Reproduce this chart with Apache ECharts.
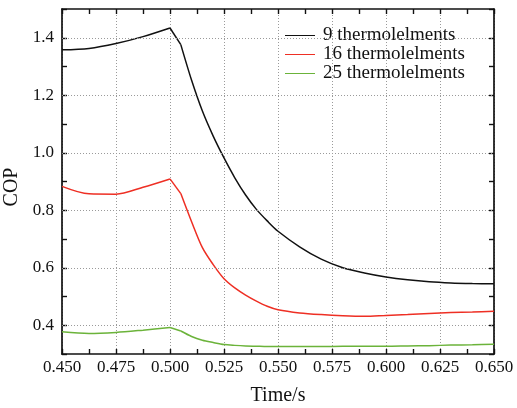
<!DOCTYPE html>
<html>
<head>
<meta charset="utf-8">
<script src="https://cdn.jsdelivr.net/npm/echarts@6/dist/echarts.min.js"></script>
<style>
  html, body { margin: 0; padding: 0; background: #fff; }
  #chart { width: 517px; height: 408px; }
</style>
</head>
<body>
<div id="chart"></div>
<script>
// Sample times (s)
const times = [0.45, 0.4625, 0.475, 0.4875, 0.5, 0.505, 0.51, 0.515, 0.52, 0.525,
  0.53, 0.535, 0.54, 0.545, 0.55, 0.56, 0.57, 0.58, 0.59, 0.6,
  0.61, 0.62, 0.63, 0.64, 0.65];

// COP for each module size
const cop9 = [1.358, 1.363, 1.380, 1.404, 1.434, 1.376, 1.252, 1.145, 1.058, 0.982,
  0.913, 0.853, 0.803, 0.763, 0.727, 0.673, 0.630, 0.600, 0.582, 0.568,
  0.558, 0.551, 0.547, 0.545, 0.544];
const cop16 = [0.883, 0.857, 0.856, 0.880, 0.909, 0.858, 0.760, 0.670, 0.611, 0.562,
  0.530, 0.505, 0.484, 0.466, 0.454, 0.443, 0.437, 0.433, 0.431, 0.434,
  0.437, 0.441, 0.444, 0.446, 0.449];
const cop25 = [0.377, 0.371, 0.375, 0.383, 0.392, 0.380, 0.361, 0.348, 0.340, 0.333,
  0.330, 0.328, 0.327, 0.326, 0.326, 0.326, 0.326, 0.327, 0.327, 0.327,
  0.328, 0.329, 0.331, 0.332, 0.334];

const seriesNames = ['9 thermolelments', '16 thermolelments', '25 thermolelments'];
const seriesColors = ['#111111', '#ee2f24', '#6bb33a'];
const seriesValues = [cop9, cop16, cop25];

// Horizontal grid levels (labelled COP values)
const copGridLevels = [0.4, 0.6, 0.8, 1.0, 1.2, 1.4];

// The curves have corners where the pulse switches (0.500 s and 0.505 s);
// each curve is drawn as smooth pieces joined at those corners.
const cornerIdx = [4, 5];

const FONT = 'Liberation Serif';
const frame = { lineStyle: { color: '#111', width: 1.7 } };
const tickStyle = { show: true, inside: true, length: 5, lineStyle: { color: '#111', width: 1.4 } };
const gridLine = { color: '#9a9a9a', type: [1, 2], width: 1 };

function pairs(vals, from, to) {
  const out = [];
  for (let i = from; i <= to; i++) out.push([times[i], vals[i]]);
  return out;
}

const chart = echarts.init(document.getElementById('chart'), null, { renderer: 'canvas' });

const xCommon = {
  type: 'value', min: 0.45, max: 0.65, interval: 0.025,
  axisLine: Object.assign({ show: true, onZero: false }, frame),
  axisTick: tickStyle,
  minorTick: { show: true, splitNumber: 2, length: 5, lineStyle: { color: '#111', width: 1.4 } }
};
const yCommon = {
  type: 'value', min: 0.3, max: 1.5, interval: 0.1,
  axisLine: Object.assign({ show: true, onZero: false }, frame),
  axisTick: tickStyle
};

const curveSeries = [];
seriesNames.forEach((name, i) => {
  const bounds = [0].concat(cornerIdx, [times.length - 1]);
  for (let s = 0; s < bounds.length - 1; s++) {
    curveSeries.push({
      name: name,
      type: 'line',
      data: pairs(seriesValues[i], bounds[s], bounds[s + 1]),
      symbol: 'none',
      smooth: 0.3,
      z: 3,
      color: seriesColors[i],
      lineStyle: { color: seriesColors[i], width: 1.5 }
    });
  }
});

chart.setOption({
  animation: false,
  backgroundColor: '#fff',
  textStyle: { fontFamily: FONT },
  grid: { left: 62, right: 23, top: 9, bottom: 54, containLabel: false, outerBoundsMode: 'none' },
  legend: {
    data: seriesNames,
    orient: 'vertical',
    left: 280, top: 21, padding: 5,
    itemWidth: 30, itemHeight: 10, itemGap: 0,
    icon: 'path://M0,4.5 L30,4.5 L30,5.5 L0,5.5 Z',
    textStyle: { fontFamily: FONT, fontSize: 19, color: '#111', lineHeight: 18.4, padding: [0, 0, 0, 3] }
  },
  xAxis: [
    Object.assign({}, xCommon, {
      position: 'bottom',
      name: 'Time/s', nameLocation: 'middle', nameGap: 32,
      nameTextStyle: { fontFamily: FONT, fontSize: 20, color: '#111' },
      axisLabel: {
        margin: 5, fontFamily: FONT, fontSize: 17, color: '#111',
        formatter: v => v.toFixed(3)
      },
      splitLine: { show: true, lineStyle: gridLine }
    }),
    Object.assign({}, xCommon, {
      position: 'top',
      axisLabel: { show: false },
      splitLine: { show: false }
    })
  ],
  yAxis: [
    Object.assign({}, yCommon, {
      position: 'left',
      name: 'COP', nameLocation: 'middle', nameGap: 40,
      nameTextStyle: { fontFamily: FONT, fontSize: 20, color: '#111', padding: [0, 11, 0, 0] },
      axisLabel: {
        margin: 8, fontFamily: FONT, fontSize: 17, color: '#111',
        formatter: v => {
          const k = Math.round(v * 10);
          return k % 2 === 0 ? (k / 10).toFixed(1) : '';
        }
      },
      splitLine: { show: false }
    }),
    Object.assign({}, yCommon, {
      position: 'right',
      axisLabel: { show: false },
      splitLine: { show: false }
    })
  ],
  series: [
    {
      name: 'grid', type: 'line', data: [], z: 1, silent: true,
      markLine: {
        silent: true, symbol: 'none', animation: false,
        label: { show: false },
        lineStyle: gridLine,
        data: copGridLevels.map(v => ({ yAxis: v }))
      }
    }
  ].concat(curveSeries)
});
</script>
</body>
</html>
